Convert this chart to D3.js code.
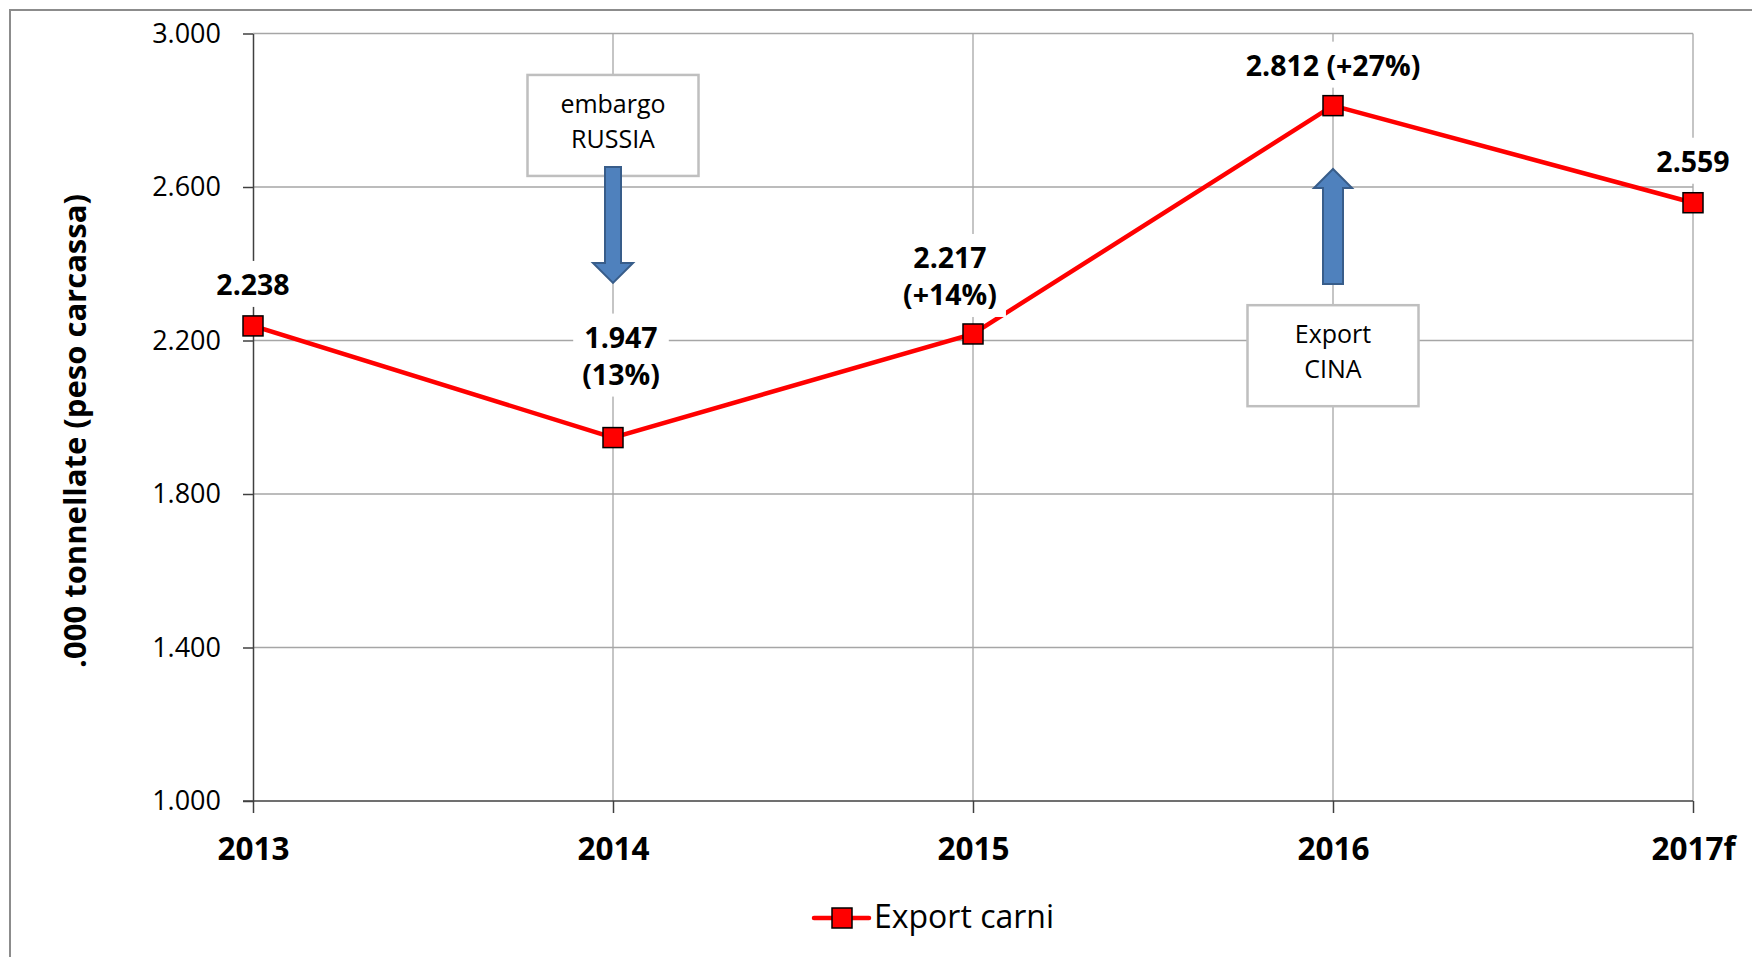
<!DOCTYPE html>
<meta charset="utf-8">
<style>
body { margin: 0; background: #fff; }
svg { font-family: "Open Sans", sans-serif; }
.grid line { stroke: #a6a6a6; stroke-width: 1.3; }
.axis .domain, .axis line { stroke: #404040; stroke-width: 1.5; }
.axis text { fill: #000; }
</style>
<svg width="1752" height="957"></svg>
<script src="https://d3js.org/d3.v7.min.js"></script>
<script>

// data
var years = ["2013", "2014", "2015", "2016", "2017f"];
var exportCarni = [2238, 1947, 2217, 2812, 2559];
var changes = ["", "(13%)", "(+14%)", "(+27%)", ""];
var yTicks = [1000, 1400, 1800, 2200, 2600, 3000];
var seriesName = "Export carni";
var yTitle = ".000 tonnellate (peso carcassa)";

var svg = d3.select("svg"),
    plotLeft = 253, plotRight = 1693, plotTop = 33.5, plotBottom = 801;

var x = d3.scalePoint().domain(years).range([plotLeft, plotRight]);
var y = d3.scaleLinear().domain([1000, 3000]).range([plotBottom, plotTop]);

var fmt = function(v) { return d3.format(",.0f")(v).replace(/,/g, "."); };

// outer frame
svg.append("rect")
    .attr("x", 10).attr("y", 10)
    .attr("width", 1800).attr("height", 1000)
    .attr("fill", "none")
    .attr("stroke", "#8c8c8c")
    .attr("stroke-width", 2);

// gridlines
var grid = svg.append("g").attr("class", "grid");
grid.selectAll(".h")
    .data(yTicks.slice(1))
  .enter().append("line")
    .attr("x1", plotLeft).attr("x2", plotRight)
    .attr("y1", function(d) { return y(d); })
    .attr("y2", function(d) { return y(d); });
grid.selectAll(".v")
    .data(years.slice(1))
  .enter().append("line")
    .attr("x1", function(d) { return x(d); })
    .attr("x2", function(d) { return x(d); })
    .attr("y1", plotTop).attr("y2", plotBottom);

// axes
svg.append("g")
    .attr("class", "axis")
    .attr("transform", "translate(" + plotLeft + ",0)")
    .call(d3.axisLeft(y).tickValues(yTicks).tickFormat(fmt).tickSizeInner(10).tickSizeOuter(0).tickPadding(22))
    .selectAll("text")
      .attr("font-size", 27)
      .attr("font-family", "Open Sans");

var xAxis = svg.append("g")
    .attr("class", "axis")
    .attr("transform", "translate(0," + plotBottom + ")")
    .call(d3.axisBottom(x).tickSizeInner(12).tickSizeOuter(0));
xAxis.select(".domain").attr("d", "M" + (plotLeft - 10) + ",0H" + plotRight);
xAxis.selectAll("text")
    .attr("y", 59)
    .attr("dy", null)
    .attr("font-size", 31.5)
    .attr("font-weight", "bold")
    .attr("font-family", "Open Sans");

svg.append("text")
    .attr("transform", "translate(86,431) rotate(-90)")
    .attr("text-anchor", "middle")
    .attr("font-size", 31)
    .attr("font-weight", "bold")
    .text(yTitle);

// annotation boxes with arrows
var notes = [
  {year: "2014", lines: ["embargo", "RUSSIA"], boxTop: 2892, from: 2652, to: 2350, shaft: 16, head: 40, headLen: 20},
  {year: "2016", lines: ["Export", "CINA"], boxTop: 2292, from: 2347, to: 2647, shaft: 20, head: 38, headLen: 19}
];

notes.forEach(function(n) {
  var cx = x(n.year), bt = y(n.boxTop);
  svg.append("rect")
      .attr("x", cx - 85.5).attr("y", bt)
      .attr("width", 171).attr("height", 101)
      .attr("fill", "#fff")
      .attr("stroke", "#bfbfbf")
      .attr("stroke-width", 2.5);
  svg.append("g").selectAll("text")
      .data(n.lines)
    .enter().append("text")
      .attr("x", cx)
      .attr("y", function(d, i) { return bt + 38 + i * 35; })
      .attr("text-anchor", "middle")
      .attr("font-size", 25)
      .text(function(d) { return d; });

  var y0 = y(n.from), y1 = y(n.to), dir = y1 > y0 ? 1 : -1,
      hb = y1 - dir * n.headLen, s = n.shaft / 2, h = n.head / 2;
  svg.append("path")
      .attr("d", "M" + (cx - s) + "," + y0 + "L" + (cx + s) + "," + y0 + "L" + (cx + s) + "," + hb +
                 "L" + (cx + h) + "," + hb + "L" + cx + "," + y1 + "L" + (cx - h) + "," + hb +
                 "L" + (cx - s) + "," + hb + "Z")
      .attr("fill", "#4f81bd")
      .attr("stroke", "#385d8a")
      .attr("stroke-width", 2);
});

// series line
var pts = years.map(function(d, i) { return {year: d, v: exportCarni[i], change: changes[i]}; });

svg.append("path")
    .datum(pts)
    .attr("fill", "none")
    .attr("stroke", "#ff0000")
    .attr("stroke-width", 4.5)
    .attr("d", d3.line().x(function(d) { return x(d.year); }).y(function(d) { return y(d.v); }));

// data labels: per point layout (offset x, first baseline above point, stacked or inline)
var labelLayout = [
  {dx: 0, dy: -31, stack: false},
  {dx: 8, dy: -90, stack: true},
  {dx: -23, dy: -66, stack: true},
  {dx: 0, dy: -30, stack: false},
  {dx: 0, dy: -31, stack: false}
];

pts.forEach(function(p, i) {
  var L = labelLayout[i], px = x(p.year) + L.dx, py = y(p.v) + L.dy;
  var lines = p.change === "" ? [fmt(p.v)] : (L.stack ? [fmt(p.v), p.change] : [fmt(p.v) + " " + p.change]);
  var g = svg.append("g");
  var bg = g.append("rect").attr("fill", "#fff");
  g.selectAll("text")
      .data(lines)
    .enter().append("text")
      .attr("x", px)
      .attr("y", function(d, j) { return py + j * 37; })
      .attr("text-anchor", "middle")
      .attr("font-size", 28.5)
      .attr("font-weight", "bold")
      .text(function(d) { return d; });
  var bb = g.node().getBBox();
  bg.attr("x", bb.x - 9).attr("y", bb.y - 4)
    .attr("width", bb.width + 18).attr("height", bb.height + 8);
});

svg.append("g").selectAll("rect")
    .data(pts)
  .enter().append("rect")
    .attr("x", function(d) { return x(d.year) - 10; })
    .attr("y", function(d) { return y(d.v) - 10; })
    .attr("width", 20).attr("height", 20)
    .attr("fill", "#ff0000")
    .attr("stroke", "#000")
    .attr("stroke-width", 1.5);

// legend
var lg = svg.append("g").attr("transform", "translate(814,918)");
lg.append("line")
    .attr("x1", 0).attr("x2", 55)
    .attr("stroke", "#ff0000")
    .attr("stroke-width", 4.5)
    .attr("stroke-linecap", "round");
lg.append("rect")
    .attr("x", 18).attr("y", -10)
    .attr("width", 20).attr("height", 20)
    .attr("fill", "#ff0000")
    .attr("stroke", "#000")
    .attr("stroke-width", 1.5);
lg.append("text")
    .attr("x", 60).attr("y", 10)
    .attr("font-size", 32)
    .text(seriesName);

</script>
